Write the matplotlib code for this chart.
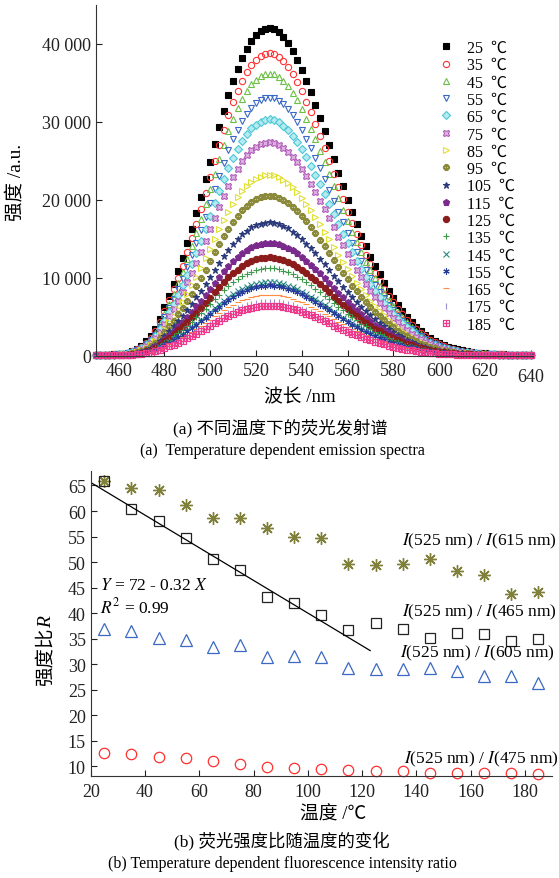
import numpy as np
import matplotlib
matplotlib.use("Agg")
import matplotlib.pyplot as plt
from matplotlib.ticker import FuncFormatter

plt.rcParams["font.family"] = ["Liberation Serif", "Noto Sans CJK SC"]
plt.rcParams["mathtext.fontset"] = "stix"

# emission spectra: 2 nm grid, 25 C curve, peak height of every curve
wavelength = np.arange(450, 641, 2)
spec_25 = [60, 70, 90, 110, 140, 180, 250, 370, 560, 850,
           1250, 1800, 2500, 3400, 4700, 6200, 7700, 9200, 10800, 12500,
           14400, 16300, 18300, 20400, 22600, 24800, 27100, 29300, 31400, 33400,
           35200, 36800, 38200, 39400, 40400, 41100, 41600, 41900, 42000, 41900,
           41500, 40900, 40100, 39100, 38000, 36700, 35300, 33800, 32200, 30500,
           28800, 27000, 25200, 23400, 21700, 20000, 18400, 16900, 15400, 14000,
           12700, 11500, 10400, 9300, 8300, 7400, 6500, 5700, 5000, 4300,
           3700, 3150, 2650, 2200, 1850, 1550, 1300, 1100, 920, 780,
           650, 540, 450, 380, 320, 270, 230, 190, 160, 140,
           120, 100, 90, 80, 75, 70]
temps = [25, 35, 45, 55, 65, 75, 85, 95, 105, 115, 125, 135, 145, 155, 165, 175, 185]
peaks = [42000, 38800, 36200, 33100, 30300, 27400, 23200, 20500, 17100,
         14500, 12600, 11200, 9400, 9000, 7800, 6900, 6400]

# intensity ratios vs temperature
temp_r = [25, 35, 45, 55, 65, 75, 85, 95, 105, 115, 125, 135, 145, 155, 165, 175, 185]
r615 = [65.9, 64.5, 64.1, 61.1, 58.7, 58.6, 56.6, 55.0, 54.8, 49.7, 49.4, 49.7, 50.5, 48.3, 47.4, 43.7, 44.2]
r465 = [65.9, 60.4, 58.1, 54.8, 50.6, 48.5, 43.2, 42.0, 39.6, 36.7, 38.1, 36.8, 35.2, 36.0, 35.9, 34.5, 34.9]
r605 = [36.8, 36.4, 35.2, 34.7, 33.4, 33.7, 31.4, 31.6, 31.3, 29.3, 29.0, 29.0, 29.2, 28.7, 27.7, 27.7, 26.3]
r475 = [12.6, 12.4, 11.8, 11.6, 11.0, 10.5, 9.8, 9.6, 9.4, 9.2, 9.1, 9.1, 8.7, 8.6, 8.7, 8.6, 8.4]
fit_a, fit_b = 72, -0.32
fit_x = [20, 123]

styles = [
    dict(marker="s", color="black", mfc="black"),
    dict(marker="o", color="#ff3333", mfc="none"),
    dict(marker="^", color="#6cbf45", mfc="none"),
    dict(marker="v", color="#3a68c8", mfc="none"),
    dict(marker="D", color="#4cc8d6", mfc="#b5eaf0"),
    dict(marker="X", color="#b05cb8", mfc="#dcb0e0"),
    dict(marker=">", color="#e0e030", mfc="none"),
    dict(marker=r"$\Phi$", color="#8a8a3a", mfc="none"),
    dict(marker="*", color="#2b3a7a", mfc="#2b3a7a"),
    dict(marker="p", color="#7a2a8c", mfc="#7a2a8c"),
    dict(marker="o", color="#8b1c1c", mfc="#8b1c1c"),
    dict(marker="+", color="#3c9a4a", mfc="none"),
    dict(marker="x", color="#2a8c84", mfc="none"),
    dict(marker=(6, 2, 0), color="#283c9c", mfc="none"),
    dict(marker="_", color="#ff8c40", mfc="none"),
    dict(marker="|", color="#9b8fd0", mfc="none"),
    dict(marker=r"$\boxplus$", color="#ee3a8c", mfc="none"),
]

W, H = 559, 879
fig = plt.figure(figsize=(W / 100, H / 100), dpi=100)


def fpos(x, y):
    return x / W, 1 - y / H


def style_axes(ax):
    for s in ("top", "right"):
        ax.spines[s].set_visible(False)
    for s in ("left", "bottom"):
        ax.spines[s].set_linewidth(0.8)
        ax.spines[s].set_color("#333333")
    ax.tick_params(direction="in", length=4.5, width=0.8, labelsize=13, colors="#222222")
    ax.tick_params(axis="x", pad=5)


# (a) emission spectra
ax1 = fig.add_axes([95.7 / W, 1 - 356.5 / H, (533 - 95.7) / W, (356.5 - 6) / H])
spec_25 = np.array(spec_25, dtype=float)
for t, pk, st in zip(temps, peaks, styles):
    ax1.plot(wavelength, spec_25 * pk / peaks[0], ls="none", marker=st["marker"],
             color=st["color"], mfc=st["mfc"], mec=st["color"], ms=4.5, mew=0.8,
             clip_on=False, label=f"{t}  ℃")
ax1.set_xlim(450, 641)
ax1.set_ylim(0, 45000)
ax1.set_xticks(range(460, 641, 20))
ax1.set_yticks(range(0, 40001, 10000))
ax1.yaxis.set_major_formatter(FuncFormatter(lambda v, p: f"{int(v):,}".replace(",", " ")))
style_axes(ax1)
ax1.xaxis.get_major_ticks()[-1].set_pad(9)
ax1.legend(loc="upper left", bbox_to_anchor=(0.769, 0.923), frameon=False, fontsize=11.5,
           borderpad=0, handlelength=0.8, handletextpad=0.9, labelspacing=0.08,
           markerscale=1.0)

fig.text(*fpos(15.5, 182), "强度 /a.u.", rotation=90, ha="center", va="center", fontsize=14)
fig.text(*fpos(300, 398), "波长 /nm", ha="center", va="center", fontsize=13.5)
fig.text(*fpos(280, 428), "(a) 不同温度下的荧光发射谱", ha="center", va="center", fontsize=12.5)
fig.text(*fpos(282, 451), "(a)  Temperature dependent emission spectra", ha="center",
         va="center", fontsize=11.5)

# (b) intensity ratios
ax2 = fig.add_axes([90.7 / W, 1 - 777.3 / H, (552 - 90.7) / W, (777.3 - 471.7) / H])
ax2.plot(temp_r, r615, ls="none", marker=(8, 2, 0), ms=9, mew=1.0, color="#80803a",
         clip_on=False)
ax2.plot(temp_r, r465, ls="none", marker="s", ms=6.5, mew=0.9, mfc="none", mec="#222222",
         clip_on=False)
ax2.plot(temp_r, r605, ls="none", marker="^", ms=8, mew=0.9, mfc="none", mec="#3a68c4",
         clip_on=False)
ax2.plot(temp_r, r475, ls="none", marker="o", ms=7.5, mew=0.9, mfc="none", mec="#ff3030",
         clip_on=False)
fx = np.array(fit_x, dtype=float)
ax2.plot(fx, fit_a + fit_b * fx, color="black", lw=0.9)
ax2.set_xlim(20, 190)
ax2.set_ylim(8.0, 67.9)
ax2.set_xticks(range(20, 181, 20))
ax2.set_yticks(range(10, 66, 5))
style_axes(ax2)

lbl = dict(fontsize=12.5, ha="right", va="center", transform=ax2.get_yaxis_transform())
ax2.text(1.01, 54.3, "$I$(525 nm) / $I$(615 nm)", **lbl)
ax2.text(1.01, 40.3, "$I$(525 nm) / $I$(465 nm)", **lbl)
ax2.text(1.005, 32.2, "$I$(525 nm) / $I$(605 nm)", **lbl)
ax2.text(1.015, 11.5, "$I$(525 nm) / $I$(475 nm)", **lbl)
ax2.text(*fpos(100, 586), "$Y$ = 72 - 0.32 $X$", transform=fig.transFigure, fontsize=12.5,
         va="center")
ax2.text(*fpos(100, 607), "$R^2$ = 0.99", transform=fig.transFigure, fontsize=12.5,
         va="center")

fig.text(*fpos(46, 657), "强度比", rotation=90, ha="center", va="center", fontsize=14)
fig.text(*fpos(47, 622), "R", rotation=90, ha="center", va="center", fontsize=14,
         style="italic", family="Liberation Serif")
fig.text(*fpos(333, 815), "温度 /℃", ha="center", va="center", fontsize=13.5)
fig.text(*fpos(282, 841), "(b) 荧光强度比随温度的变化", ha="center", va="center", fontsize=12.5)
fig.text(*fpos(282, 864), "(b) Temperature dependent fluorescence intensity ratio",
         ha="center", va="center", fontsize=11.5)

fig.savefig("out.png", dpi=100)
